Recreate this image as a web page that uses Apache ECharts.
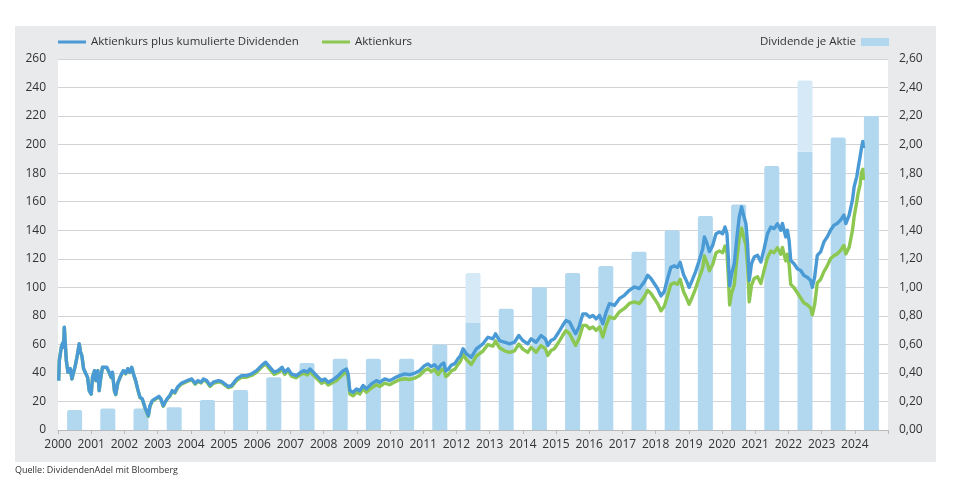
<!DOCTYPE html>
<html><head><meta charset="utf-8">
<script src="https://cdn.jsdelivr.net/npm/echarts@6/dist/echarts.min.js"></script>
<style>html,body{margin:0;padding:0;background:#fff}#c{width:959px;height:484px}</style>
</head><body><div id="c"></div>
<script>
// ---- data ----
const years = [2000,2001,2002,2003,2004,2005,2006,2007,2008,2009,2010,2011,2012,2013,2014,2015,2016,2017,2018,2019,2020,2021,2022,2023,2024];
const dividend = [0.14,0.15,0.15,0.16,0.21,0.28,0.37,0.47,0.50,0.50,0.50,0.60,0.75,0.85,1.00,1.10,1.15,1.25,1.40,1.50,1.58,1.85,1.95,2.05,2.20];
const specialDividend = [null,null,null,null,null,null,null,null,null,null,null,null,0.35,null,null,null,null,null,null,null,null,null,0.50,null,null];
const leftTicks = [0,20,40,60,80,100,120,140,160,180,200,220,240,260];
const rightTicks = [0,0.2,0.4,0.6,0.8,1.0,1.2,1.4,1.6,1.8,2.0,2.2,2.4,2.6];

const dates = [
2000.02,2000.04,2000.10,2000.14,2000.17,2000.19,2000.22,2000.25,2000.30,2000.37,2000.42,2000.47,2000.52,2000.57,2000.64,2000.68,2000.72,2000.77,2000.82,2000.89,2000.94,
2001.00,2001.04,2001.10,2001.14,2001.20,2001.24,2001.29,2001.34,2001.40,2001.47,2001.54,2001.60,2001.64,2001.70,2001.74,2001.80,2001.87,2001.92,2001.97,
2002.04,2002.10,2002.16,2002.22,2002.27,2002.34,2002.40,2002.47,2002.54,2002.62,2002.68,2002.72,2002.77,2002.84,2002.92,2002.98,
2003.04,2003.10,2003.17,2003.22,2003.30,2003.37,2003.44,2003.52,2003.61,2003.71,2003.83,2003.93,
2004.03,2004.13,2004.21,2004.31,2004.38,2004.48,2004.58,2004.68,2004.83,2004.93,
2005.03,2005.13,2005.23,2005.38,2005.53,2005.68,2005.83,2005.98,
2006.13,2006.25,2006.38,2006.51,2006.63,2006.75,2006.83,2006.93,
2007.03,2007.18,2007.31,2007.41,2007.51,2007.59,2007.69,2007.79,2007.94,
2008.04,2008.14,2008.24,2008.39,2008.49,2008.59,2008.69,2008.74,2008.79,2008.89,2008.99,
2009.09,2009.19,2009.29,2009.44,2009.59,2009.69,2009.84,2009.99,
2010.14,2010.29,2010.44,2010.59,2010.74,2010.89,
2011.04,2011.14,2011.24,2011.34,2011.45,2011.55,2011.62,2011.68,2011.75,2011.85,2011.95,
2012.05,2012.12,2012.20,2012.30,2012.45,2012.60,2012.80,2012.95,
2013.10,2013.18,2013.30,2013.45,2013.60,2013.75,2013.88,
2014.00,2014.15,2014.25,2014.40,2014.55,2014.68,2014.75,2014.85,2014.95,
2015.08,2015.20,2015.30,2015.41,2015.51,2015.59,2015.69,2015.81,2015.91,
2016.01,2016.11,2016.21,2016.31,2016.41,2016.51,2016.61,2016.76,2016.91,
2017.06,2017.21,2017.36,2017.51,2017.66,2017.76,2017.86,2017.96,
2018.06,2018.16,2018.26,2018.36,2018.46,2018.56,2018.66,2018.74,2018.84,2018.94,
2019.01,2019.10,2019.20,2019.30,2019.42,2019.47,2019.55,2019.62,2019.72,2019.82,2019.92,
2020.02,2020.09,2020.15,2020.19,2020.23,2020.29,2020.37,2020.45,2020.52,2020.59,2020.65,2020.72,2020.77,2020.82,2020.89,2020.97,
2021.07,2021.17,2021.27,2021.37,2021.47,2021.57,2021.67,2021.77,2021.82,2021.92,2021.97,
2022.02,2022.07,2022.17,2022.27,2022.37,2022.47,2022.57,2022.67,2022.72,2022.79,2022.87,2022.97,
2023.07,2023.17,2023.27,2023.37,2023.47,2023.57,2023.67,2023.73,2023.83,2023.93,2023.98,
2024.06,2024.10,2024.16,2024.20,2024.24,2024.26
];
const totalReturn = [
34.6,48.7,58,61,58,72,60.4,48.7,40.5,43,35.8,40.5,45,51,60.4,54.5,52,43,40.5,37,27.6,
25.2,37,41.6,34.6,41.6,27.6,37,44,43,44,40.5,37,40.5,27.6,25,33,37,39.6,41.6,
39.6,43,40.5,44,39.6,34.6,28.8,23,21.8,15.9,14.7,10,17,20.6,21.8,20.6,
23.6,21.8,17,19.4,22.4,24.2,27.6,26.4,30.4,32.7,34,35,
35.8,32.7,34.6,33.5,35.8,34.6,31.3,33.5,34.6,34,
32.2,30.4,31.2,35.8,38.1,38.1,39.3,41.6,
45.1,47.5,44,40.5,41.6,44,40.5,42.8,
39.3,38.1,40.5,41.6,40.5,42.8,40.5,38.1,34.6,
35.8,33.4,34.6,37,39.3,41.6,42.8,39.3,27.6,26.4,28.8,
27.6,31.2,28.8,32.3,34.6,33.4,35.8,34.6,
36.5,38.1,39.3,38.8,39.7,41.6,
45.1,46.3,44.4,45.8,42.8,46,47,41.5,42.5,45.5,46.5,
50,52,56.9,53.4,51,56.9,60.4,65,
63.9,67.4,62.7,61.5,60.4,61.5,66.2,
62.7,60.4,63.9,61.5,66.2,63.9,59.2,62.7,63.9,
68.5,73.2,76.7,75.6,70.9,67.4,72,81.4,81.4,
79.1,80.3,77.9,80.3,74.4,82.6,88.5,87.3,92,
94.4,97.9,100.3,99.1,103.8,108.5,106.2,102.7,
99.1,94,97,106,114,115,114,117.5,109,104,
100,104.8,110.7,117.7,127,135.3,130.6,125,129.4,137.6,138.8,
137.6,142.3,137.6,121,101,109.5,116.6,135.3,149.3,156.4,150.5,144.6,130.6,104.8,116.6,121.2,
122.4,117.7,127.1,137.6,142.3,141.1,144.5,140,144.7,135.3,140,
133,118.9,116.5,113,111.8,108.3,107.1,104.8,100,107.1,122.4,124.8,
131.8,135.3,140,143.5,144.7,147.1,150.6,144.7,150.6,161.2,170.5,
177.6,183.4,191.6,197.5,202.2,197.5
];
const sharePrice = [
34.6,48.7,58,61,58,72,60.4,48.7,40.5,42.9,35.7,40.4,44.9,50.9,60.3,54.4,51.9,42.9,40.4,36.9,27.5,
25.1,36.9,41.5,34.5,41.5,27.5,36.9,43.9,42.7,43.7,40.2,36.7,40.2,27.3,24.7,32.7,36.7,39.3,41.3,
39.3,42.7,40.2,43.7,39.3,34.3,28.4,22.6,21.4,15.5,14.3,9.6,16.6,20.2,21.4,20.2,
23.2,21.4,16.6,19,22,23.6,27,25.8,29.8,32.1,33.4,34.4,
35.2,32.1,34,32.9,35,33.8,30.5,32.7,33.8,33.2,
31.4,29.6,30.4,34.7,37,37,38.2,40.5,
44,46.4,42.5,39,40.1,42.5,39,41.3,
37.8,36.6,39,39.7,38.6,40.9,38.6,36.2,32.7,
33.9,31.5,32.7,34.6,36.9,39.2,40.4,36.9,25.2,24,26.4,
25.2,28.8,26.4,29.4,31.7,30.5,32.9,31.7,
33.6,35.2,35.9,35.4,36.3,38.2,
41.7,42.9,41,42.4,38.8,42,43,37.5,38.5,41.5,42.5,
46,48,52.9,49.4,45.9,51.8,55.3,59.9,
58.8,62.3,57.6,55.5,54.4,55.5,60.2,
56.7,54.4,57.9,54.5,59.2,56.9,52.2,55.7,56.9,
61.5,66.2,69.7,67.5,62.8,59.3,63.9,73.3,73.3,
71,72.2,69.8,72.2,65.2,73.4,79.3,78.1,82.8,
85.2,88.7,89.8,88.6,93.3,98,95.7,92.2,
88.6,83.5,86.5,94.1,102.1,103.1,102.1,105.6,97.1,92.1,
88.1,92.9,98.8,105.8,113.6,121.9,117.2,111.6,116,124.2,125.4,
124.2,128.9,124.2,107.6,87.6,96.1,101.6,120.3,134.3,141.4,135.5,129.6,115.6,89.8,101.6,106.2,
107.4,102.7,112.1,120.8,125.5,124.3,127.7,123.2,127.9,118.5,123.2,
116.2,102.1,99.7,96.2,92.5,89,87.8,85.5,80.7,87.8,103.1,105.5,
111,115,120,122.2,123.4,125.8,129.3,123.4,128,140,149.4,
160,166,172,180,182.7,175.2
];

// ---- chart ----
const FONT = '"Open Sans", "Noto Sans", sans-serif';
const TXT = '#333333';
const chart = echarts.init(document.getElementById('c'), null, {renderer: 'canvas'});
const commaFmt = v => v.toFixed(2).replace('.', ',');

chart.setOption({
  animation: false,
  textStyle: {fontFamily: FONT},
  graphic: [
    {type: 'rect', z: -100, silent: true, shape: {x: 15, y: 26, width: 921, height: 436}, style: {fill: '#e9eaec'}},
    {type: 'text', left: 15, top: 466, style: {text: 'Quelle: DividendenAdel mit Bloomberg', fill: TXT, font: '9px "Open Sans", sans-serif'}}
  ],
  grid: {left: 58, right: 71, top: 59, bottom: 54, show: true, backgroundColor: '#ffffff', borderWidth: 0},
  legend: [
    {data: ['Aktienkurs plus kumulierte Dividenden'], left: 53, top: 31, icon: 'rect', itemWidth: 28, itemHeight: 3,
     textStyle: {color: TXT, fontSize: 11.5, fontFamily: FONT}},
    {data: ['Aktienkurs'], left: 317, top: 31, icon: 'rect', itemWidth: 28, itemHeight: 3,
     textStyle: {color: TXT, fontSize: 11.5, fontFamily: FONT}},
    {data: ['Dividende je Aktie'], right: 65, top: 31, align: 'right', icon: 'rect', itemWidth: 28, itemHeight: 8,
     textStyle: {color: TXT, fontSize: 11.5, fontFamily: FONT}}
  ],
  xAxis: [
    {type: 'value', min: years[0], max: years[years.length - 1] + 1, interval: 1,
     axisLine: {lineStyle: {color: '#b8babd', width: 1}},
     axisTick: {show: true, length: 4, lineStyle: {color: '#b8babd'}},
     axisLabel: {color: TXT, fontSize: 12, margin: 9, formatter: v => (years.indexOf(v) >= 0 ? String(v) : '')},
     splitLine: {show: false}},
    {type: 'category', data: years.map(String), boundaryGap: true, show: false}
  ],
  yAxis: [
    {type: 'value', position: 'left', min: leftTicks[0], max: leftTicks[leftTicks.length - 1], interval: leftTicks[1] - leftTicks[0],
     axisLine: {show: false}, axisTick: {show: false},
     axisLabel: {color: TXT, fontSize: 12, margin: 12},
     splitLine: {lineStyle: {color: '#d2d3d6', width: 1}}},
    {type: 'value', position: 'right', min: rightTicks[0], max: rightTicks[rightTicks.length - 1], interval: 0.2,
     axisLine: {show: false}, axisTick: {show: false},
     axisLabel: {color: TXT, fontSize: 12, margin: 11, formatter: commaFmt},
     splitLine: {show: false}}
  ],
  series: [
    {name: 'Dividende je Aktie', type: 'bar', xAxisIndex: 1, yAxisIndex: 1, stack: 'div', barWidth: 15,
     itemStyle: {color: '#b2d8f0'},
     data: dividend.map((v, i) => ({value: v, itemStyle: {borderRadius: specialDividend[i] ? 0 : [2, 2, 0, 0]}}))},
    {name: 'Sonderdividende', type: 'bar', xAxisIndex: 1, yAxisIndex: 1, stack: 'div', barWidth: 15,
     itemStyle: {color: '#d5e9f6', borderRadius: [2, 2, 0, 0]}, data: specialDividend},
    {name: 'Aktienkurs', type: 'line', xAxisIndex: 0, yAxisIndex: 0, showSymbol: false, symbol: 'none',
     lineStyle: {width: 3.4, color: '#8cc751', join: 'round'}, itemStyle: {color: '#8cc751'},
     data: dates.map((d, i) => [d, sharePrice[i]])},
    {name: 'Aktienkurs plus kumulierte Dividenden', type: 'line', xAxisIndex: 0, yAxisIndex: 0, showSymbol: false, symbol: 'none',
     lineStyle: {width: 3.4, color: '#4a9bd5', join: 'round'}, itemStyle: {color: '#4a9bd5'},
     data: dates.map((d, i) => [d, totalReturn[i]])}
  ]
});
</script>
</body></html>
